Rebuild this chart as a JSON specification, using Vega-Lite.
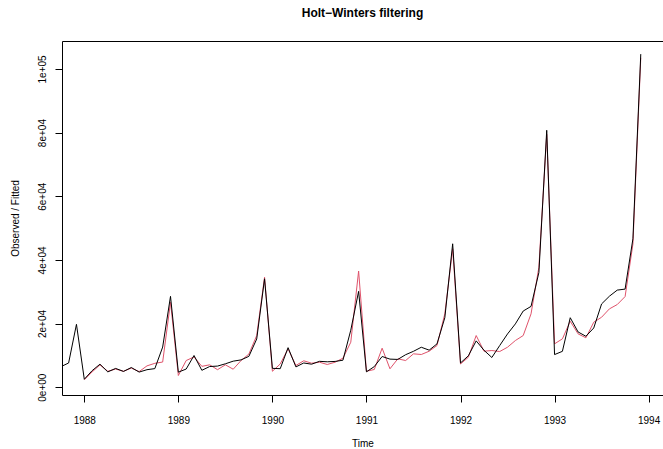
{
  "$schema": "https://vega.github.io/schema/vega-lite/v6.json",
  "width": 601,
  "height": 354,
  "autosize": {"type": "none"},
  "padding": {"left": 62, "top": 41, "right": 0, "bottom": 54},
  "background": "white",
  "config": {
    "font": "Liberation Sans",
    "view": {"stroke": "black", "strokeWidth": 1},
    "axis": {
      "grid": false,
      "domain": false,
      "tickColor": "black",
      "tickSize": 7,
      "tickWidth": 1,
      "labelColor": "black",
      "titleColor": "black",
      "labelFontSize": 10,
      "titleFontSize": 10,
      "titleFontWeight": "normal",
      "labelFont": "Liberation Sans",
      "titleFont": "Liberation Sans"
    }
  },
  "title": {
    "text": "Holt−Winters filtering",
    "fontSize": 12,
    "fontWeight": "bold",
    "font": "Liberation Sans",
    "color": "black",
    "anchor": "middle",
    "offset": 21
  },
  "datasets": {
    "observed": [
      {"t": 1987.0, "value": 1664.81}, {"t": 1987.0833, "value": 2397.53}, {"t": 1987.1667, "value": 2840.71}, {"t": 1987.25, "value": 3547.29},
      {"t": 1987.3333, "value": 3752.96}, {"t": 1987.4167, "value": 3714.74}, {"t": 1987.5, "value": 4349.61}, {"t": 1987.5833, "value": 3566.34},
      {"t": 1987.6667, "value": 5021.82}, {"t": 1987.75, "value": 6423.48}, {"t": 1987.8333, "value": 7600.6}, {"t": 1987.9167, "value": 19756.21},
      {"t": 1988.0, "value": 2499.81}, {"t": 1988.0833, "value": 5198.24}, {"t": 1988.1667, "value": 7225.14}, {"t": 1988.25, "value": 4806.03},
      {"t": 1988.3333, "value": 5900.88}, {"t": 1988.4167, "value": 4951.34}, {"t": 1988.5, "value": 6179.12}, {"t": 1988.5833, "value": 4752.15},
      {"t": 1988.6667, "value": 5496.43}, {"t": 1988.75, "value": 5835.1}, {"t": 1988.8333, "value": 12600.08}, {"t": 1988.9167, "value": 28541.72},
      {"t": 1989.0, "value": 4717.02}, {"t": 1989.0833, "value": 5702.63}, {"t": 1989.1667, "value": 9957.58}, {"t": 1989.25, "value": 5304.78},
      {"t": 1989.3333, "value": 6492.43}, {"t": 1989.4167, "value": 6630.8}, {"t": 1989.5, "value": 7349.62}, {"t": 1989.5833, "value": 8176.62},
      {"t": 1989.6667, "value": 8573.17}, {"t": 1989.75, "value": 9690.5}, {"t": 1989.8333, "value": 15151.84}, {"t": 1989.9167, "value": 34061.01},
      {"t": 1990.0, "value": 5921.1}, {"t": 1990.0833, "value": 5814.58}, {"t": 1990.1667, "value": 12421.25}, {"t": 1990.25, "value": 6369.77},
      {"t": 1990.3333, "value": 7609.12}, {"t": 1990.4167, "value": 7224.75}, {"t": 1990.5, "value": 8121.22}, {"t": 1990.5833, "value": 7979.25},
      {"t": 1990.6667, "value": 8093.06}, {"t": 1990.75, "value": 8476.7}, {"t": 1990.8333, "value": 17914.66}, {"t": 1990.9167, "value": 30114.41},
      {"t": 1991.0, "value": 4826.64}, {"t": 1991.0833, "value": 6470.23}, {"t": 1991.1667, "value": 9638.77}, {"t": 1991.25, "value": 8821.17},
      {"t": 1991.3333, "value": 8722.37}, {"t": 1991.4167, "value": 10209.48}, {"t": 1991.5, "value": 11276.55}, {"t": 1991.5833, "value": 12552.22},
      {"t": 1991.6667, "value": 11637.39}, {"t": 1991.75, "value": 13606.89}, {"t": 1991.8333, "value": 21822.11}, {"t": 1991.9167, "value": 45060.69},
      {"t": 1992.0, "value": 7615.03}, {"t": 1992.0833, "value": 9849.69}, {"t": 1992.1667, "value": 14558.4}, {"t": 1992.25, "value": 11587.33},
      {"t": 1992.3333, "value": 9332.56}, {"t": 1992.4167, "value": 13082.09}, {"t": 1992.5, "value": 16732.78}, {"t": 1992.5833, "value": 19888.61},
      {"t": 1992.6667, "value": 23933.38}, {"t": 1992.75, "value": 25391.35}, {"t": 1992.8333, "value": 36024.8}, {"t": 1992.9167, "value": 80721.71},
      {"t": 1993.0, "value": 10243.24}, {"t": 1993.0833, "value": 11266.88}, {"t": 1993.1667, "value": 21826.84}, {"t": 1993.25, "value": 17357.33},
      {"t": 1993.3333, "value": 15997.79}, {"t": 1993.4167, "value": 18601.53}, {"t": 1993.5, "value": 26155.15}, {"t": 1993.5833, "value": 28586.52},
      {"t": 1993.6667, "value": 30505.41}, {"t": 1993.75, "value": 30821.33}, {"t": 1993.8333, "value": 46634.38}, {"t": 1993.9167, "value": 104660.67}
    ],
    "fitted": [
      {"t": 1988.0, "value": 2300}, {"t": 1988.0833, "value": 4800}, {"t": 1988.1667, "value": 7000}, {"t": 1988.25, "value": 5000},
      {"t": 1988.3333, "value": 5700}, {"t": 1988.4167, "value": 5000}, {"t": 1988.5, "value": 6000}, {"t": 1988.5833, "value": 4900},
      {"t": 1988.6667, "value": 6700}, {"t": 1988.75, "value": 7500}, {"t": 1988.8333, "value": 7900}, {"t": 1988.9167, "value": 26700},
      {"t": 1989.0, "value": 3670}, {"t": 1989.0833, "value": 8380}, {"t": 1989.1667, "value": 9500}, {"t": 1989.25, "value": 6550},
      {"t": 1989.3333, "value": 7030}, {"t": 1989.4167, "value": 5500}, {"t": 1989.5, "value": 7030}, {"t": 1989.5833, "value": 5650},
      {"t": 1989.6667, "value": 8380}, {"t": 1989.75, "value": 10400}, {"t": 1989.8333, "value": 16230}, {"t": 1989.9167, "value": 34540},
      {"t": 1990.0, "value": 5000}, {"t": 1990.0833, "value": 7300}, {"t": 1990.1667, "value": 12050}, {"t": 1990.25, "value": 6810},
      {"t": 1990.3333, "value": 8300}, {"t": 1990.4167, "value": 7540}, {"t": 1990.5, "value": 7850}, {"t": 1990.5833, "value": 7130},
      {"t": 1990.6667, "value": 7850}, {"t": 1990.75, "value": 9100}, {"t": 1990.8333, "value": 14130}, {"t": 1990.9167, "value": 36500},
      {"t": 1991.0, "value": 5000}, {"t": 1991.0833, "value": 5560}, {"t": 1991.1667, "value": 12250}, {"t": 1991.25, "value": 5780},
      {"t": 1991.3333, "value": 8910}, {"t": 1991.4167, "value": 8380}, {"t": 1991.5, "value": 10480}, {"t": 1991.5833, "value": 10270},
      {"t": 1991.6667, "value": 11300}, {"t": 1991.75, "value": 13090}, {"t": 1991.8333, "value": 23050}, {"t": 1991.9167, "value": 43500},
      {"t": 1992.0, "value": 7300}, {"t": 1992.0833, "value": 9400}, {"t": 1992.1667, "value": 16230}, {"t": 1992.25, "value": 11300},
      {"t": 1992.3333, "value": 11520}, {"t": 1992.4167, "value": 11200}, {"t": 1992.5, "value": 12560}, {"t": 1992.5833, "value": 14660},
      {"t": 1992.6667, "value": 16230}, {"t": 1992.75, "value": 23050}, {"t": 1992.8333, "value": 37680}, {"t": 1992.9167, "value": 79500},
      {"t": 1993.0, "value": 13620}, {"t": 1993.0833, "value": 15190}, {"t": 1993.1667, "value": 20720}, {"t": 1993.25, "value": 16760},
      {"t": 1993.3333, "value": 15510}, {"t": 1993.4167, "value": 20410}, {"t": 1993.5, "value": 21980}, {"t": 1993.5833, "value": 24610},
      {"t": 1993.6667, "value": 25970}, {"t": 1993.75, "value": 28480}, {"t": 1993.8333, "value": 45000}, {"t": 1993.9167, "value": 103500}
    ]
  },
  "layer": [
    {
      "data": {"name": "fitted"},
      "mark": {"type": "line", "color": "#DF536B", "strokeWidth": 1, "clip": true},
      "encoding": {
        "x": {"field": "t", "type": "quantitative",
              "scale": {"domain": [1987.763, 1994.153], "nice": false, "zero": false},
              "axis": {"values": [1988, 1989, 1990, 1991, 1992, 1993, 1994], "format": "d", "title": "Time", "labelPadding": 13, "titlePadding": 13, "labelFlush": false}},
        "y": {"field": "value", "type": "quantitative",
              "scale": {"domain": [-2455, 108780], "nice": false, "zero": false},
              "axis": {"values": [0, 20000, 40000, 60000, 80000, 100000], "title": "Observed / Fitted",
                       "labelExpr": "datum.value == 0 ? '0e+00' : datum.value == 100000 ? '1e+05' : format(datum.value / 10000, 'd') + 'e+04'",
                       "labelAngle": -90, "labelAlign": "center", "labelBaseline": "bottom", "labelPadding": 8, "titlePadding": 17, "labelFlush": false}}
      }
    },
    {
      "data": {"name": "observed"},
      "mark": {"type": "line", "color": "black", "strokeWidth": 1, "clip": true},
      "encoding": {
        "x": {"field": "t", "type": "quantitative"},
        "y": {"field": "value", "type": "quantitative"}
      }
    }
  ]
}
